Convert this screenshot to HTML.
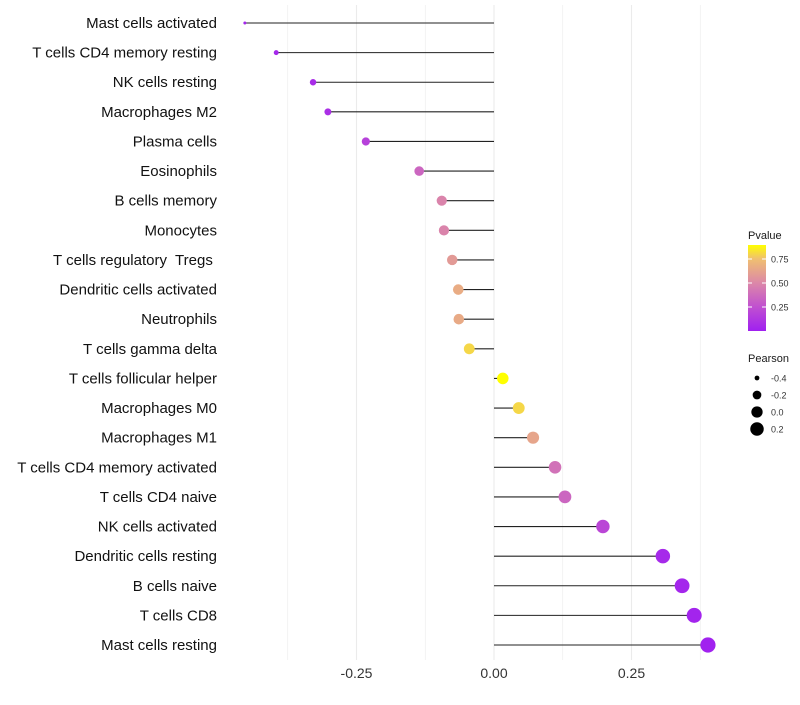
<!DOCTYPE html>
<html><head><meta charset="utf-8"><style>
body{margin:0;background:#fff;font-family:"Liberation Sans",sans-serif}
text{white-space:pre}
</style></head><body>
<svg id="c" width="800" height="700" xmlns="http://www.w3.org/2000/svg">
<defs><linearGradient id="pg" x1="0" y1="1" x2="0" y2="0">
<stop offset="0" stop-color="#a020f0"/><stop offset="0.28" stop-color="#c050d0"/><stop offset="0.56" stop-color="#dc88a8"/><stop offset="0.84" stop-color="#f0c070"/><stop offset="1" stop-color="#ffff00"/></linearGradient></defs>
</svg>
<script>
const categories=["Mast cells activated","T cells CD4 memory resting","NK cells resting","Macrophages M2","Plasma cells","Eosinophils","B cells memory","Monocytes","T cells regulatory  Tregs ","Dendritic cells activated","Neutrophils","T cells gamma delta","T cells follicular helper","Macrophages M0","Macrophages M1","T cells CD4 memory activated","T cells CD4 naive","NK cells activated","Dendritic cells resting","B cells naive","T cells CD8","Mast cells resting"];
const pearson=[-0.453,-0.396,-0.329,-0.302,-0.233,-0.136,-0.095,-0.091,-0.076,-0.065,-0.064,-0.045,0.016,0.045,0.071,0.111,0.129,0.198,0.307,0.342,0.364,0.389];
const pvalues=[0.03,0.04,0.06,0.08,0.17,0.35,0.48,0.48,0.58,0.66,0.65,0.8,0.95,0.8,0.63,0.4,0.35,0.2,0.05,0.03,0.02,0.01];
const xTicks=[-0.25,0,0.25];
const xTickLabels=["-0.25","0.00","0.25"];
const sizeLegend=[-0.4,-0.2,0.0,0.2];
const colorTicks=[0.25,0.5,0.75];

const svg=document.getElementById('c');const NS="http://www.w3.org/2000/svg";
function el(t,a,p){const e=document.createElementNS(NS,t);for(const k in a)e.setAttribute(k,a[k]);(p||svg).appendChild(e);return e;}
const x=v=>494+v*550;
const y=i=>23+i*(622/21);
const r=v=>Math.sqrt(Math.max(2.25,2.25+66*(v+0.453)));
const stops=[[0,[160,32,240]],[0.25,[192,80,208]],[0.5,[220,136,168]],[0.75,[240,192,112]],[0.89,[255,255,0]]];
function col(p){p=Math.min(0.89,Math.max(0,p));for(let i=1;i<stops.length;i++){if(p<=stops[i][0]){const a=stops[i-1],b=stops[i],t=(p-a[0])/(b[0]-a[0]);return 'rgb('+a[1].map((c,j)=>Math.round(c+(b[1][j]-c)*t)).join(',')+')';}}return 'rgb(255,255,0)';}
for(let v=-0.375;v<=0.4;v+=0.125){const g=el('line',{x1:x(v),x2:x(v),y1:5,y2:660,stroke:'#ebebeb','stroke-width':Math.abs((v/0.125)%2)>0.5?0.6:1.1});
}
xTicks.forEach((v,i)=>{const t=el('text',{x:x(v),y:678,'text-anchor':'middle','font-size':14,fill:'#333'});t.textContent=xTickLabels[i];
});
categories.forEach((c,i)=>{
const t=el('text',{x:217,y:y(i)+5,'text-anchor':'end','font-size':15,fill:'#111'});t.textContent=c;

const l=el('line',{x1:x(pearson[i]),x2:x(0),y1:y(i),y2:y(i),stroke:'#222','stroke-width':1.1});

const d=el('circle',{cx:x(pearson[i]),cy:y(i),r:r(pearson[i]),fill:col(pvalues[i])});

});
const lt=el('text',{x:748,y:239,'font-size':11,fill:'#1a1a1a'});lt.textContent='Pvalue';

const bar=el('rect',{x:748,y:245,width:18,height:86,fill:'url(#pg)'});

const cy=p=>331-p*96;
colorTicks.forEach(p=>{el('line',{x1:748,x2:752,y1:cy(p),y2:cy(p),stroke:'#fff'});el('line',{x1:762,x2:766,y1:cy(p),y2:cy(p),stroke:'#fff'});
const t=el('text',{x:771,y:cy(p)+3.5,'font-size':9,fill:'#333'});t.textContent=p.toFixed(2);
});
const st=el('text',{x:748,y:362,'font-size':11,fill:'#1a1a1a'});st.textContent='Pearson';

sizeLegend.forEach((v,i)=>{const yy=378+i*17;
const c=el('circle',{cx:757,cy:yy,r:r(v),fill:'#000'});
const t=el('text',{x:771,y:yy+3.5,'font-size':9,fill:'#333'});t.textContent=v.toFixed(1);
});
</script>
</body></html>
